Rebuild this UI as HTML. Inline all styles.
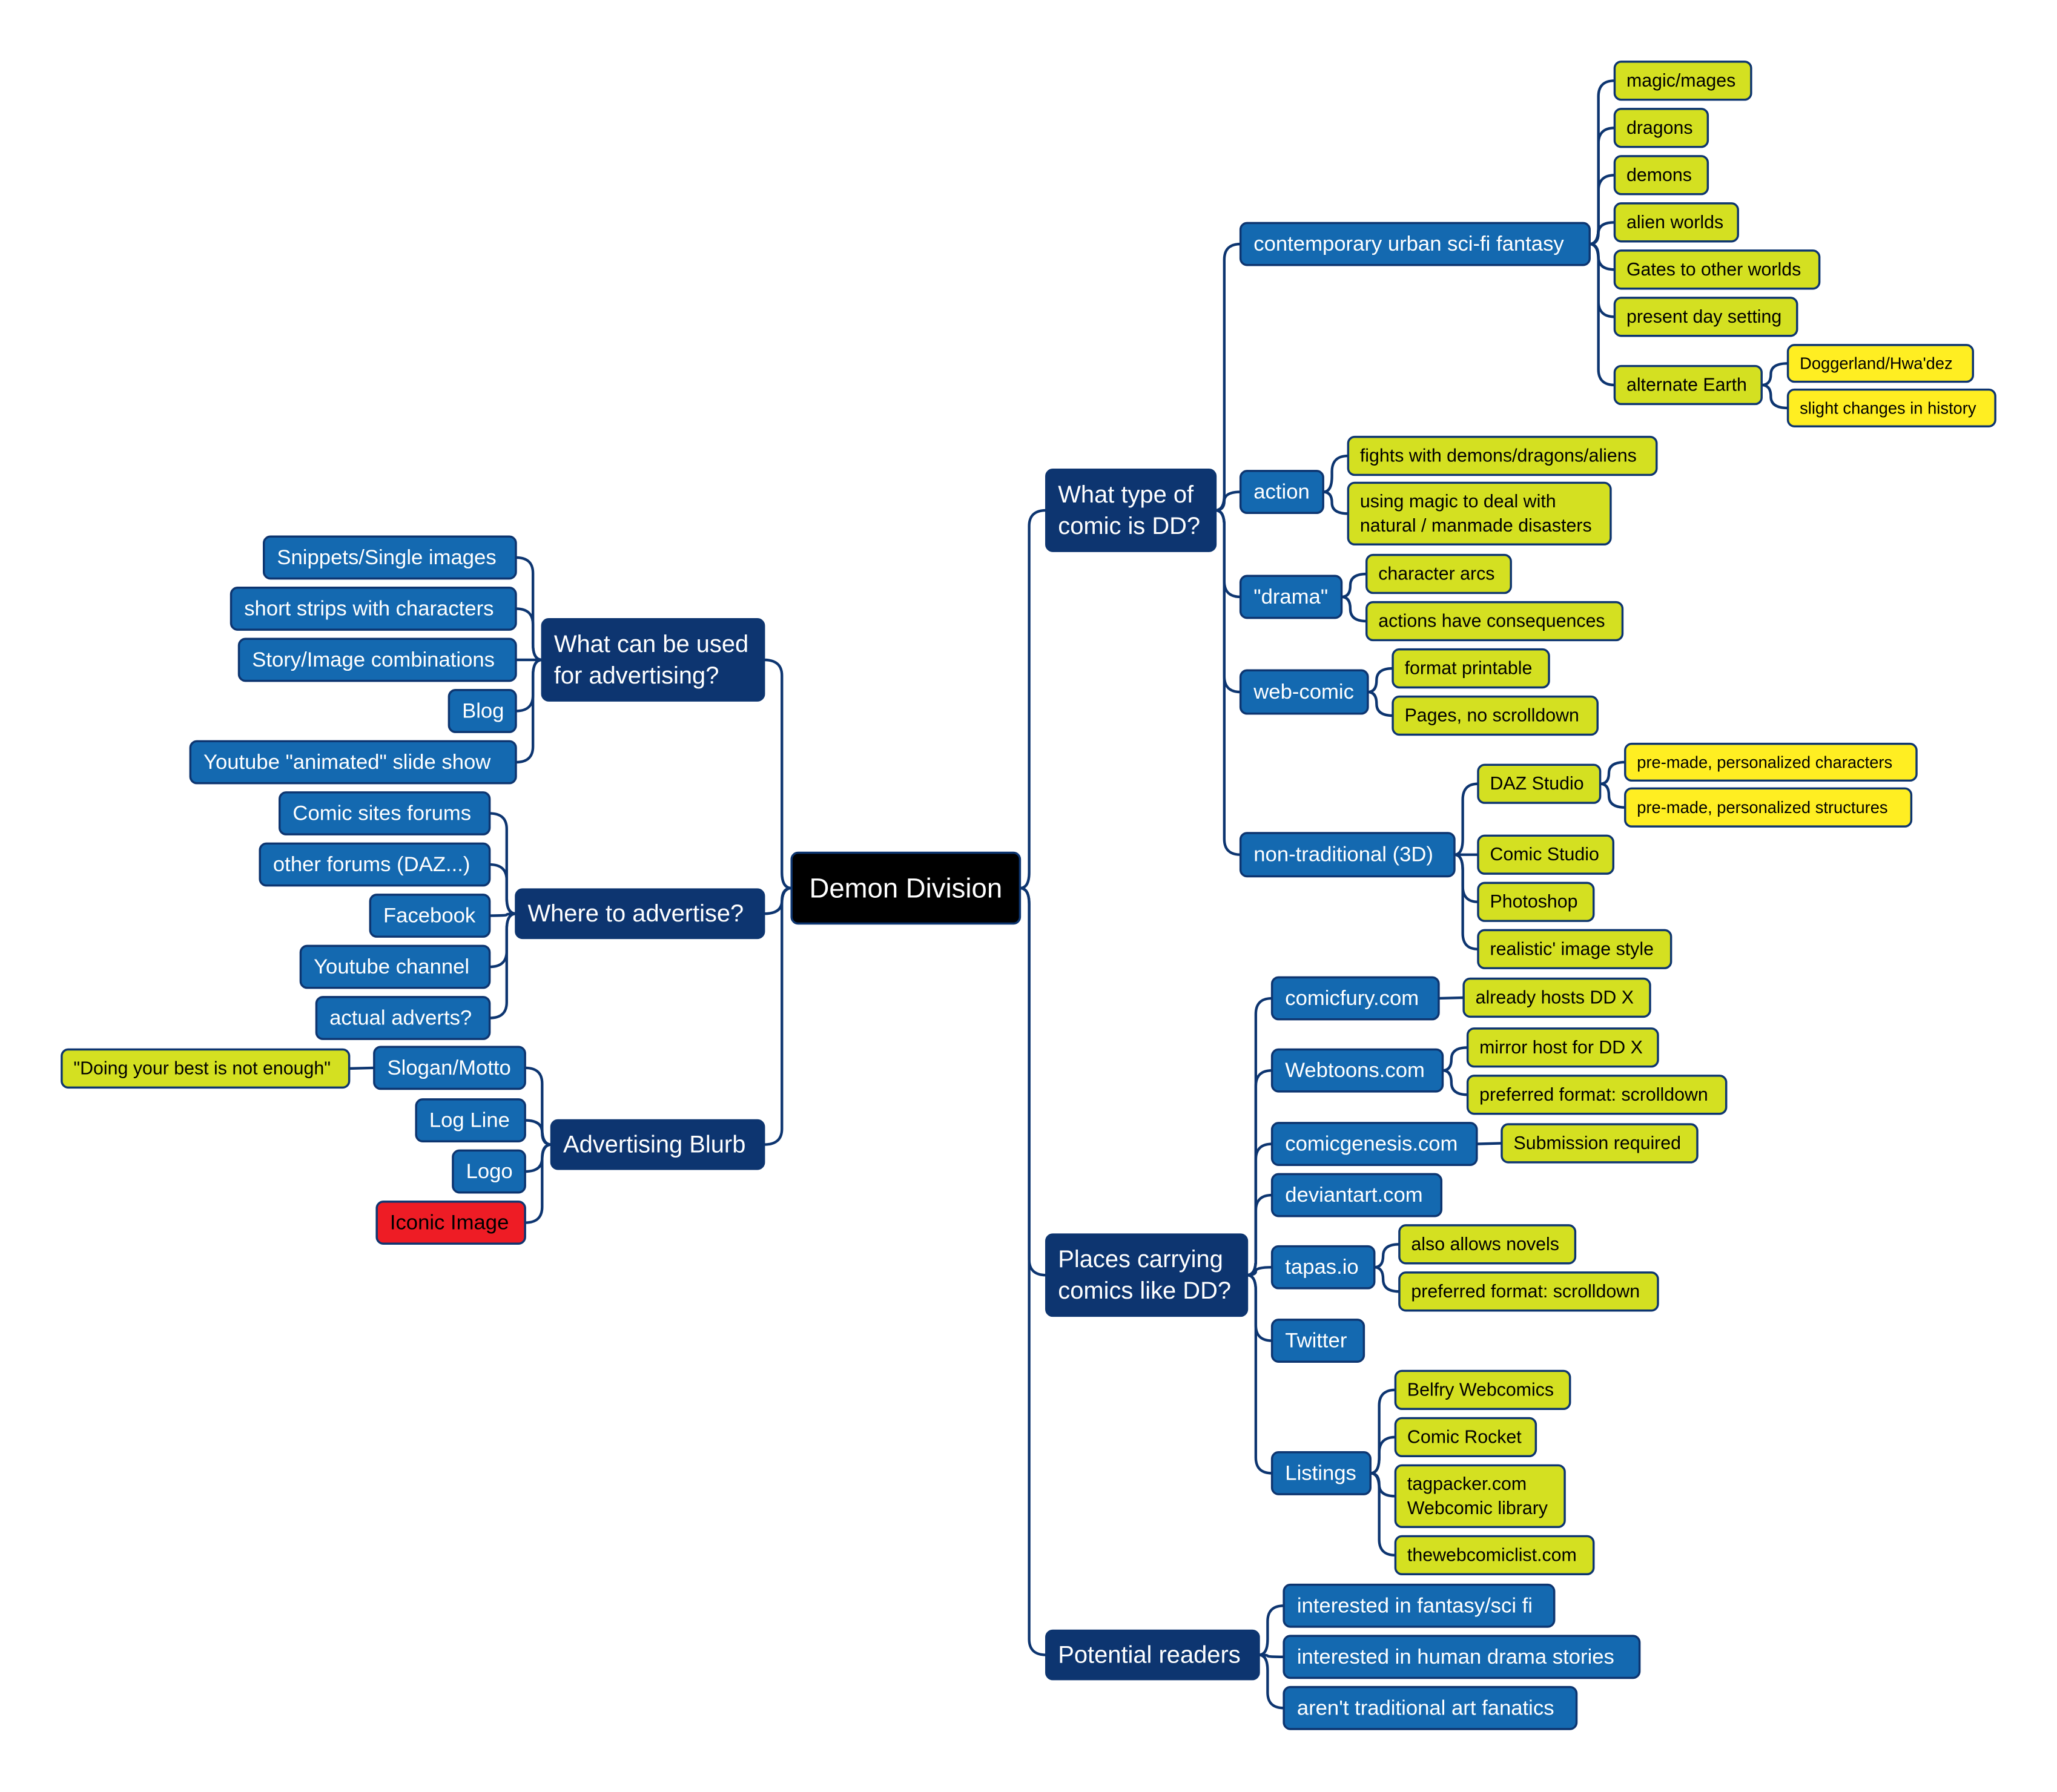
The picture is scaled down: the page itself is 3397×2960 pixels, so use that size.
<!DOCTYPE html>
<html><head><meta charset="utf-8"><style>
html,body{margin:0;padding:0;background:#fff;}
svg{display:block;}
text{font-family:"Liberation Sans",Arial,sans-serif;}
</style></head><body>
<svg id="s" width="3397" height="2960" viewBox="0 0 1567 1366" preserveAspectRatio="none" xmlns="http://www.w3.org/2000/svg">
<g id="lines" fill="none" stroke="#0d3570" stroke-width="2"></g>
<g id="nodes"></g>
</svg>
<script>
var N=[
["root",null,603,650,777,704,"root",["Demon Division"]],
["wt","root",797,358,926,420,"l1",["What type of","comic is DD?"]],
["pc","root",797,941,950,1003,"l1",["Places carrying","comics like DD?"]],
["pr","root",797,1243,959,1280,"l1",["Potential readers"]],
["wc","root",413,472,582,534,"l1",["What can be used","for advertising?"]],
["wa","root",393,678,582,715,"l1",["Where to advertise?"]],
["ab","root",420,854,582,891,"l1",["Advertising Blurb"]],
["cu","wt",945,170,1211,202,"l2",["contemporary urban sci-fi fantasy"]],
["ac","wt",945,359,1008,391,"l2",["action"]],
["dr","wt",945,439,1022,471,"l2",["\"drama\""]],
["wb","wt",945,511,1042,544,"l2",["web-comic"]],
["nt","wt",945,635,1108,668,"l2",["non-traditional (3D)"]],
["a1","cu",1230,47,1334,76,"l3",["magic/mages"]],
["a2","cu",1230,83,1301,112,"l3",["dragons"]],
["a3","cu",1230,119,1301,148,"l3",["demons"]],
["a4","cu",1230,155,1324,184,"l3",["alien worlds"]],
["a5","cu",1230,191,1386,220,"l3",["Gates to other worlds"]],
["a6","cu",1230,227,1369,256,"l3",["present day setting"]],
["ae","cu",1230,279,1342,308,"l3",["alternate Earth"]],
["y1","ae",1362,263,1503,291,"y",["Doggerland/Hwa'dez"]],
["y2","ae",1362,297,1520,325,"y",["slight changes in history"]],
["b1","ac",1027,333,1262,362,"l3",["fights with demons/dragons/aliens"]],
["b2","ac",1027,368,1227,415,"l3",["using magic to deal with","natural / manmade disasters"]],
["c1","dr",1041,423,1151,452,"l3",["character arcs"]],
["c2","dr",1041,459,1236,488,"l3",["actions have consequences"]],
["d1","wb",1061,495,1180,524,"l3",["format printable"]],
["d2","wb",1061,531,1217,560,"l3",["Pages, no scrolldown"]],
["dz","nt",1126,583,1219,612,"l3",["DAZ Studio"]],
["y3","dz",1238,567,1460,595,"y",["pre-made, personalized characters"]],
["y4","dz",1238,601,1456,630,"y",["pre-made, personalized structures"]],
["e2","nt",1126,637,1229,666,"l3",["Comic Studio"]],
["e3","nt",1126,673,1214,702,"l3",["Photoshop"]],
["e4","nt",1126,709,1273,738,"l3",["realistic' image style"]],
["cf","pc",969,745,1096,777,"l2",["comicfury.com"]],
["f1","cf",1115,746,1257,775,"l3",["already hosts DD X"]],
["wt2","pc",969,800,1099,832,"l2",["Webtoons.com"]],
["g1","wt2",1118,784,1263,813,"l3",["mirror host for DD X"]],
["g2","wt2",1118,820,1315,849,"l3",["preferred format: scrolldown"]],
["cg","pc",969,856,1125,888,"l2",["comicgenesis.com"]],
["h1","cg",1144,857,1293,886,"l3",["Submission required"]],
["da","pc",969,895,1098,927,"l2",["deviantart.com"]],
["tp","pc",969,950,1047,982,"l2",["tapas.io"]],
["i1","tp",1066,934,1200,963,"l3",["also allows novels"]],
["i2","tp",1066,970,1263,999,"l3",["preferred format: scrolldown"]],
["tw","pc",969,1006,1039,1038,"l2",["Twitter"]],
["ls","pc",969,1107,1044,1139,"l2",["Listings"]],
["j1","ls",1063,1045,1196,1074,"l3",["Belfry Webcomics"]],
["j2","ls",1063,1081,1170,1110,"l3",["Comic Rocket"]],
["j3","ls",1063,1117,1192,1164,"l3",["tagpacker.com","Webcomic library"]],
["j4","ls",1063,1171,1214,1200,"l3",["thewebcomiclist.com"]],
["k1","pr",978,1208,1184,1240,"l2",["interested in fantasy/sci fi"]],
["k2","pr",978,1247,1249,1279,"l2",["interested in human drama stories"]],
["k3","pr",978,1286,1201,1318,"l2",["aren't traditional art fanatics"]],
["m1","wc",201,409,393,441,"l2",["Snippets/Single images"]],
["m2","wc",176,448,393,480,"l2",["short strips with characters"]],
["m3","wc",182,487,393,519,"l2",["Story/Image combinations"]],
["m4","wc",342,526,393,558,"l2",["Blog"]],
["m5","wc",145,565,393,597,"l2",["Youtube \"animated\" slide show"]],
["n1","wa",213,604,373,636,"l2",["Comic sites forums"]],
["n2","wa",198,643,373,675,"l2",["other forums (DAZ...)"]],
["n3","wa",282,682,373,714,"l2",["Facebook"]],
["n4","wa",229,721,373,753,"l2",["Youtube channel"]],
["n5","wa",241,760,373,792,"l2",["actual adverts?"]],
["sm","ab",285,798,400,830,"l2",["Slogan/Motto"]],
["q1","sm",47,800,266,829,"l3",["\"Doing your best is not enough\""]],
["o2","ab",317,838,400,870,"l2",["Log Line"]],
["o3","ab",345,877,400,909,"l2",["Logo"]],
["o4","ab",287,916,400,948,"red",["Iconic Image"]]
];
var S={
root:{fill:"#000",tc:"#fff",fs:21,pad:12,lh:24},
l1:{fill:"#0d3570",tc:"#fff",fs:18.4,pad:9,lh:24},
l2:{fill:"#1469b0",tc:"#fff",fs:16,pad:10,lh:20},
l3:{fill:"#d4e021",tc:"#000",fs:14,pad:9,lh:18.5},
y:{fill:"#ffee22",tc:"#000",fs:12.6,pad:9,lh:16},
red:{fill:"#ee1c25",tc:"#000",fs:16,pad:10,lh:20}
};
var M={};N.forEach(function(n){M[n[0]]=n;});
var ns="http://www.w3.org/2000/svg",L=document.getElementById("lines"),G=document.getElementById("nodes");
function el(t,a,p){var e=document.createElementNS(ns,t);for(var k in a)e.setAttribute(k,a[k]);p.appendChild(e);return e;}
N.forEach(function(n){
 if(n[1]){var p=M[n[1]];var py=(p[3]+p[5])/2,cy=(n[3]+n[5])/2,x1,x2;
  if(n[2]>p[4]){x1=p[4];x2=n[2];}else{x1=p[2];x2=n[4];}
  var xt=x1+(x2-x1)*0.35,dy=cy-py,s=dy>0?1:-1,r=Math.min(Math.abs(dy)/2,12);
  var d="M"+x1+","+py+" Q"+xt+","+py+" "+xt+","+(py+s*r)+" L"+xt+","+(cy-s*r)+" Q"+xt+","+cy+" "+x2+","+cy;
  if(Math.abs(dy)<1)d="M"+x1+","+py+" L"+x2+","+cy;
  el("path",{d:d},L);}
 var st=S[n[6]];
 el("rect",{x:n[2],y:n[3],width:n[4]-n[2],height:n[5]-n[3],rx:5,ry:5,fill:st.fill,stroke:"#0d3570","stroke-width":1.6},G);
 var cyy=(n[3]+n[5])/2,k=n[7].length;
 n[7].forEach(function(t,i){
  var ty=cyy+(i-(k-1)/2)*st.lh;
  var x=n[6]=="root"?(n[2]+n[4])/2:n[2]+st.pad;
  var tx=el("text",{x:x,y:ty,fill:st.tc,"font-size":st.fs,"dominant-baseline":"central","text-anchor":n[6]=="root"?"middle":"start"},G);
  tx.textContent=t;});
});
</script>
</body></html>
